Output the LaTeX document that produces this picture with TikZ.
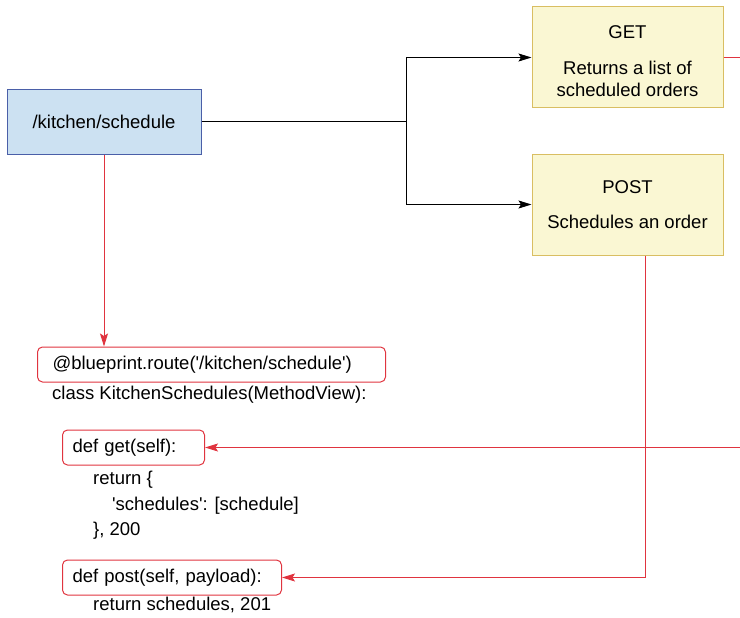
\documentclass[tikz,border=0pt]{standalone}
\usepackage{fontspec}
\setmainfont{Liberation Sans}
\usepackage{xcolor}
\usetikzlibrary{arrows.meta}

\definecolor{routefill}{HTML}{CCE1F2}
\definecolor{routedraw}{HTML}{4A5FA8}
\definecolor{verbfill}{HTML}{FAF7D3}
\definecolor{verbdraw}{HTML}{D9BE62}
\definecolor{linkred}{HTML}{E0343F}

\newcommand{\sq}{\textquotesingle}

\tikzset{
  routebox/.style={draw=routedraw, fill=routefill, line width=1pt, minimum width=194pt, minimum height=64pt},
  verbbox/.style={draw=verbdraw, fill=verbfill, line width=1pt, minimum width=191pt, minimum height=101pt, align=center},
  codebox/.style={draw=linkred, rounded corners=5pt, line width=1pt, minimum height=35pt, anchor=west, align=left},
  codeline/.style={anchor=west, inner sep=0pt},
  blackarrow/.style={-{Stealth[length=13pt,width=8pt,inset=2.5pt]}, line width=1pt},
  redarrow/.style={-{Stealth[length=13pt,width=8pt,inset=2.5pt]}, color=linkred, line width=1pt}
}

\begin{document}
\begin{tikzpicture}[x=1pt, y=-1pt, font=\fontsize{18.5}{22}\selectfont]
      % \draw[help lines, gray!50, very thin] (0,0) grid[step=50] (740,618);
      \useasboundingbox (0,0) rectangle (740,618);
      \clip (0,0) rectangle (740,618);

      \node[routebox] (route) at (104,122) {/kitchen/schedule};
      \node[verbbox] (get) at (627.5,57.5) {\rule{0pt}{20pt}GET\\[14pt]Returns a list of\\scheduled orders};
      \node[verbbox] (post) at (627.5,204.5) {POST\\[13pt]Schedules an order};

      \coordinate (split) at (406,122);
      \draw[line width=1pt] (route.east) -- (split);
      \draw[blackarrow] (split) |- (get.west);
      \draw[blackarrow] (split) |- (post.west);

      \node[codebox, inner xsep=15pt, text width=318pt] (deco) at (37,364.5) {@blueprint.route(\sq/kitchen/schedule\sq)};
      \node[codeline] (cls) at (52,395) {class KitchenSchedules(MethodView):};

      \node[codebox, inner xsep=10pt, text width=122pt] (getdef) at (62,447.5) {def get(self):};
      \node[codeline] (ret1) at (93,480) {return \{};
      \node[codeline] (ret2) at (112,506) {\sq schedules\sq: [schedule]};
      \node[codeline] (ret3) at (93,531) {\}, 200};

      \node[codebox, inner xsep=10pt, text width=199pt] (postdef) at (62,577.5) {def post(self, payload):};
      \node[codeline] (ret4) at (93,605) {return schedules, 201};

      \draw[redarrow] (route.south) -- (route.south |- deco.north);
      \draw[redarrow] (get.east) -- ++(40,0) |- (getdef.east);
      \draw[redarrow] ([xshift=17.5pt]post.south) |- (postdef.east);
    \end{tikzpicture}
\end{document}
